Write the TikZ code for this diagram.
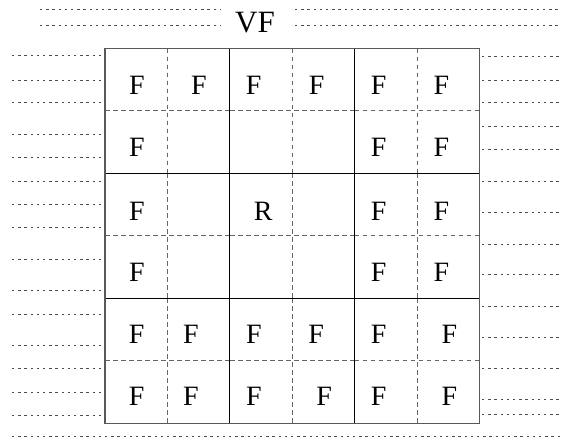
\documentclass[tikz,border=0pt]{standalone}
\usepackage{fontspec}
\setmainfont{Liberation Serif}
\begin{document}
\begin{tikzpicture}[x=1pt,y=-1pt,
 dotline/.style={draw=black!70, line width=0.8pt, dash pattern=on 2.4pt off 3.8pt},
 dashline/.style={draw=black!60, line width=0.9pt, dash pattern=on 4.7pt off 3.3pt},
 innerline/.style={draw=black, line width=0.9pt},
 outerline/.style={draw=black!65, line width=1.5pt},
 lbl/.style={inner sep=0pt, font=\fontsize{28}{28}\selectfont},
 title/.style={inner sep=0pt, font=\fontsize{31}{31}\selectfont}]
\useasboundingbox (0,0) rectangle (562,439);
% top dotted lines
\foreach \yy in {9.3,25}{
  \draw[dotline] (40,\yy) -- (221,\yy);
  \draw[dotline] (295,\yy) -- (560,\yy);
}
% bottom dotted line
\draw[dotline] (12,436) -- (560,436);
% left dotted lines
\foreach \yy in {55.7,80,102.7,134.3,157.3,181.3,204.3,227.7,259.3,290.7,314,345.3,368,392.3,415}{
  \draw[dotline] (12,\yy) -- (103,\yy);
}
% right dotted lines
\foreach \yy in {56,80,102.7,126.7,149.3,181.3,212.7,244,274.3,306,337.3,368,399.3,414.3}{
  \draw[dotline] (482,\yy) -- (560,\yy);
}
% dashed crosses inside each 2x2 block
\foreach \bx in {105,229.8,354.6}{
  \foreach \by in {48.5,173.3,298.1}{
    \draw[dashline] (\bx+62.4,\by) -- (\bx+62.4,\by+124.8);
    \draw[dashline] (\bx,\by+62.4) -- (\bx+124.8,\by+62.4);
  }
}
% solid inner lines
\draw[innerline] (229.8,48.5) -- (229.8,423.3);
\draw[innerline] (354.6,48.5) -- (354.6,423.3);
\draw[innerline] (105,173.3) -- (479.4,173.3);
\draw[innerline] (105,298.1) -- (479.4,298.1);
% outer border
\draw[outerline] (105,48.5) rectangle (479.4,423.3);
% title
\node[title] (vf) at (255,23) {VF};
% labels
\foreach \nm/\xx/\yy/\tx in {
  a1/137/85.5/F, a2/199/85.5/F, a3/253.7/85.5/F, a4/316.7/85.5/F, a5/378.7/85.5/F, a6/441.3/85.5/F,
  b1/137/147.5/F, b5/378.7/147.5/F, b6/441.3/147.5/F,
  c1/137/211.5/F, c3/263.3/211.5/R, c5/378.7/211.5/F, c6/441.3/211.5/F,
  d1/137/272.3/F, d5/378.7/272.3/F, d6/441.3/272.3/F,
  e1/136.7/334.3/F, e2/191/334.3/F, e3/254/334.3/F, e4/316.2/334.3/F, e5/378.7/334.3/F, e6/449.5/334.3/F,
  f1/136.7/396.7/F, f2/191/396.7/F, f3/254/396.7/F, f4/324.2/396.7/F, f5/378.7/396.7/F, f6/449.5/396.7/F}{
  \node[lbl] (\nm) at (\xx,\yy) {\tx};
}
\end{tikzpicture}
\end{document}
